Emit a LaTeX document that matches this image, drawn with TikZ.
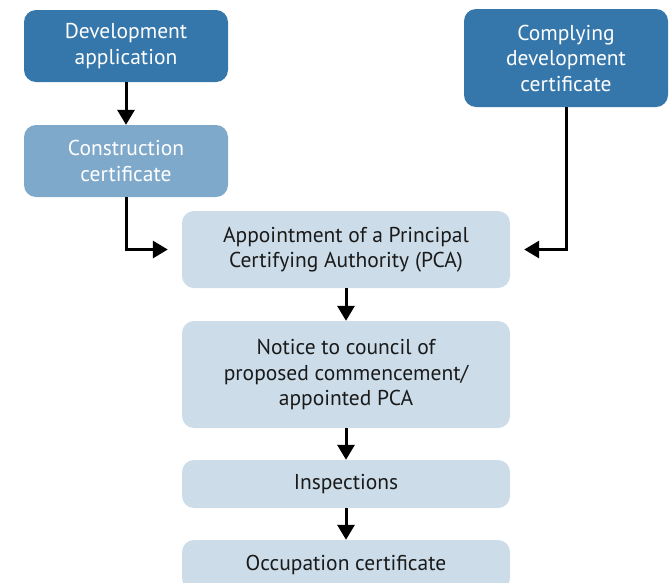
\documentclass[tikz,border=0pt]{standalone}
\usepackage{fontspec}
\setmainfont{PT Sans}
\usetikzlibrary{arrows.meta}
\definecolor{darkblue}{HTML}{3577AB}
\definecolor{midblue}{HTML}{7FA9CB}
\definecolor{lightblue}{HTML}{CCDDE9}
\definecolor{txtdark}{HTML}{1A1A1A}
\begin{document}
\begin{tikzpicture}[x=1pt,y=-1pt,
  box/.style={rounded corners=12pt, align=center, inner sep=0pt,
    font=\fontsize{21.5}{25.5}\selectfont},
  darkbox/.style={box, fill=darkblue, text=white},
  midbox/.style={box, fill=midblue, text=white},
  lightbox/.style={box, fill=lightblue, text=txtdark},
  conn/.style={line width=3pt, -{Triangle[length=15pt,width=17pt]}}]
\useasboundingbox (0,0) rectangle (669,582);
\node[darkbox, minimum width=204pt, minimum height=72pt] (dev) at (126,46) {Development\\application};
\node[midbox, minimum width=204pt, minimum height=72pt] (cons) at (126,161) {Construction\\certificate};
\node[darkbox, minimum width=204pt, minimum height=98pt] (comp) at (566,58) {Complying\\development\\certificate};
\node[lightbox, minimum width=328pt, minimum height=77pt] (appt) at (346,249.5) {Appointment of a Principal\\Certifying Authority (PCA)};
\node[lightbox, minimum width=328pt, minimum height=107pt] (notice) at (346,374.5) {Notice to council of\\proposed commencement/\\appointed PCA};
\node[lightbox, minimum width=328pt, minimum height=48pt] (insp) at (346,484) {Inspections};
\node[lightbox, minimum width=328pt, minimum height=50pt] (occ) at (346,565) {Occupation certificate};
\draw[conn] (dev) -- (cons);
\draw[conn, shorten >=14pt] (cons.south) |- (appt.west);
\draw[conn, shorten >=14pt] (comp.south) |- (appt.east);
\draw[conn] (appt) -- (notice);
\draw[conn] (notice) -- (insp);
\draw[conn] (insp) -- (occ);
\end{tikzpicture}
\end{document}
